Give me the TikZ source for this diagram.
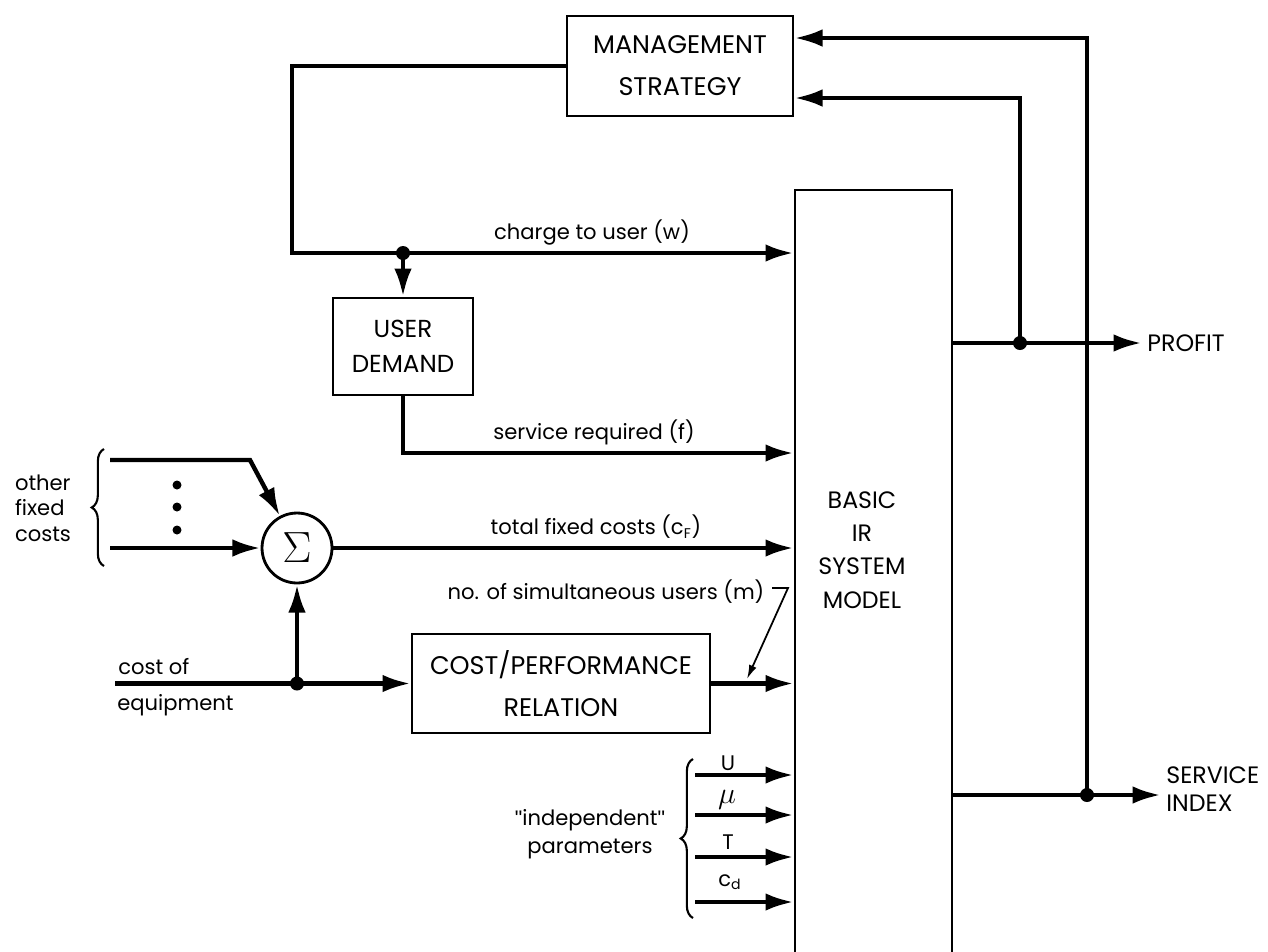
\documentclass[tikz,border=0pt]{standalone}
\usepackage{fontspec}
\setmainfont{Poppins}
\newfontfamily\quotefont{Liberation Sans}
\usetikzlibrary{arrows.meta,decorations.pathreplacing,calc}
\tikzset{
  blk/.style={draw, line width=1.6pt, inner sep=0pt, align=center, font=\fontsize{14.5}{24}\selectfont},
  conn/.style={line width=2.5pt},
  arr/.style={-{Latex[length=16pt,width=10pt]}},
  lbl/.style={font=\fontsize{12}{14}\selectfont, inner sep=0pt},
  jdot/.style={circle, fill, inner sep=0pt, minimum size=0.28cm},
  sdot/.style={circle, fill, inner sep=0pt, minimum size=0.18cm},
  brc/.style={line width=1.2pt, decorate, decoration={brace, amplitude=7pt}},
}
\begin{document}
\begin{tikzpicture}[x=0.02cm,y=-0.02cm]
\useasboundingbox (0,0) rectangle (1268,951);
% blocks
\node[blk, minimum width=4.52cm, minimum height=2cm] (ms) at (680,66) {MANAGEMENT\\STRATEGY};
\node[blk, minimum width=2.8cm, minimum height=1.94cm, font=\fontsize{14}{20}\selectfont] (ud) at (403,346.5) {USER\\DEMAND};
\node[blk, minimum width=5.96cm, minimum height=1.98cm] (cp) at (561,683.5) {COST/PERFORMANCE\\RELATION};
\node[blk, minimum width=3.14cm, minimum height=16.4cm] (basic) at (873.5,600) {};
\node[align=center, inner sep=0pt, font=\fontsize{13.5}{19}\selectfont] (basictext) at (862,550) {BASIC\\IR\\SYSTEM\\MODEL};
\node[draw, circle, line width=1.6pt, minimum size=1.4cm, inner sep=0pt] (sig) at (297,548) {\fontsize{26}{26}\selectfont$\Sigma$};
% coordinates
\coordinate (tl) at (292,253);
\coordinate (j1) at (403,253);
\coordinate (sr) at (403,453);
\coordinate (o1) at (110,460);
\coordinate (o1b) at (250,460);
\coordinate (o2) at (110,548);
\coordinate (ce) at (115,683.5);
\coordinate (j2) at (297,683.5);
\coordinate (jp) at (1020,343);
\coordinate (js) at (1087,795);
\coordinate (f1) at (1087,38);
\coordinate (f2) at (1020,98);
\coordinate (pu) at (695,775);
\coordinate (pmu) at (695,815);
\coordinate (pt) at (695,857);
\coordinate (pcd) at (695,902);
\coordinate (m1) at (772,588);
\coordinate (m2) at (788,588);
\coordinate (m3) at (747,679);
% output labels
\node[anchor=west, inner sep=0pt, font=\fontsize{13.5}{15}\selectfont] (profit) at (1147,343) {PROFIT};
\node[anchor=west, inner sep=0pt, align=left, font=\fontsize{13.5}{16}\selectfont] (si) at (1166,789) {SERVICE\\INDEX};
% connectors
\draw[conn,arr] (ms.west) -| (tl) -- (tl -| basic.west);
\draw[conn,arr] (j1) -- (ud.north);
\draw[conn,arr] (ud.south) -- (sr) -- (sr -| basic.west);
\draw[conn,arr] (o1) -- (o1b) -- (sig);
\draw[conn,arr] (o2) -- (sig.west);
\draw[conn,arr] (sig.east) -- (sig.east -| basic.west);
\draw[conn,arr] (ce) -- (cp.west);
\draw[conn,arr] (j2) -- (sig.south);
\draw[conn,arr] (cp.east) -- (cp.east -| basic.west);
\draw[conn,arr] (pu) -- (pu -| basic.west);
\draw[conn,arr] (pmu) -- (pmu -| basic.west);
\draw[conn,arr] (pt) -- (pt -| basic.west);
\draw[conn,arr] (pcd) -- (pcd -| basic.west);
\draw[conn,arr,shorten >=3pt] (basic.east |- jp) -- (profit.west);
\draw[conn,arr] (jp) -- (f2) -- (f2 -| ms.east);
\draw[conn,arr] (js) -- (f1) -- (f1 -| ms.east);
\draw[conn,arr,shorten >=3pt] (basic.east |- js) -- (js -| si.west);
\draw[line width=1pt, -{Latex[length=8pt,width=4.5pt]}] (m1) -- (m2) -- (m3);
% junction dots
\node[jdot] (d1) at (j1) {};
\node[jdot] (d2) at (j2) {};
\node[jdot] (d3) at (jp) {};
\node[jdot] (d4) at (js) {};
\node[sdot] (e1) at (177,485) {};
\node[sdot] (e2) at (177,507) {};
\node[sdot] (e3) at (177,530) {};
% braces
\draw[brc] (104,566) -- (104,449);
\draw[brc] (693,918) -- (693,759);
% labels
\node[lbl] (lw) at (592,232) {charge to user (w)};
\node[lbl] (lf) at (594,432) {service required (f)};
\node[lbl] (lc) at (596,527) {total fixed costs (c\textsubscript{F})};
\node[lbl] (lm) at (606,592) {no. of simultaneous users (m)};
\node[lbl, align=left, font=\fontsize{12}{14.5}\selectfont] (ofc) at (43,508) {other\\fixed\\costs};
\node[lbl, anchor=west] (co) at (118,667) {cost of};
\node[lbl, anchor=west] (eq) at (117,705) {equipment};
\node[lbl] (lu) at (728,763) {U};
\node[lbl, font=\fontsize{17}{17}\selectfont] (lmu) at (727,800) {$\mu$};
\node[lbl] (lt) at (728,842) {T};
\node[lbl] (lcd) at (730,882) {c\textsubscript{d}};
\node[lbl, align=center, font=\fontsize{12}{16}\selectfont] (ip) at (590,834) {{\quotefont\symbol{34}}independent{\quotefont\symbol{34}}\\parameters};
\end{tikzpicture}
\end{document}
